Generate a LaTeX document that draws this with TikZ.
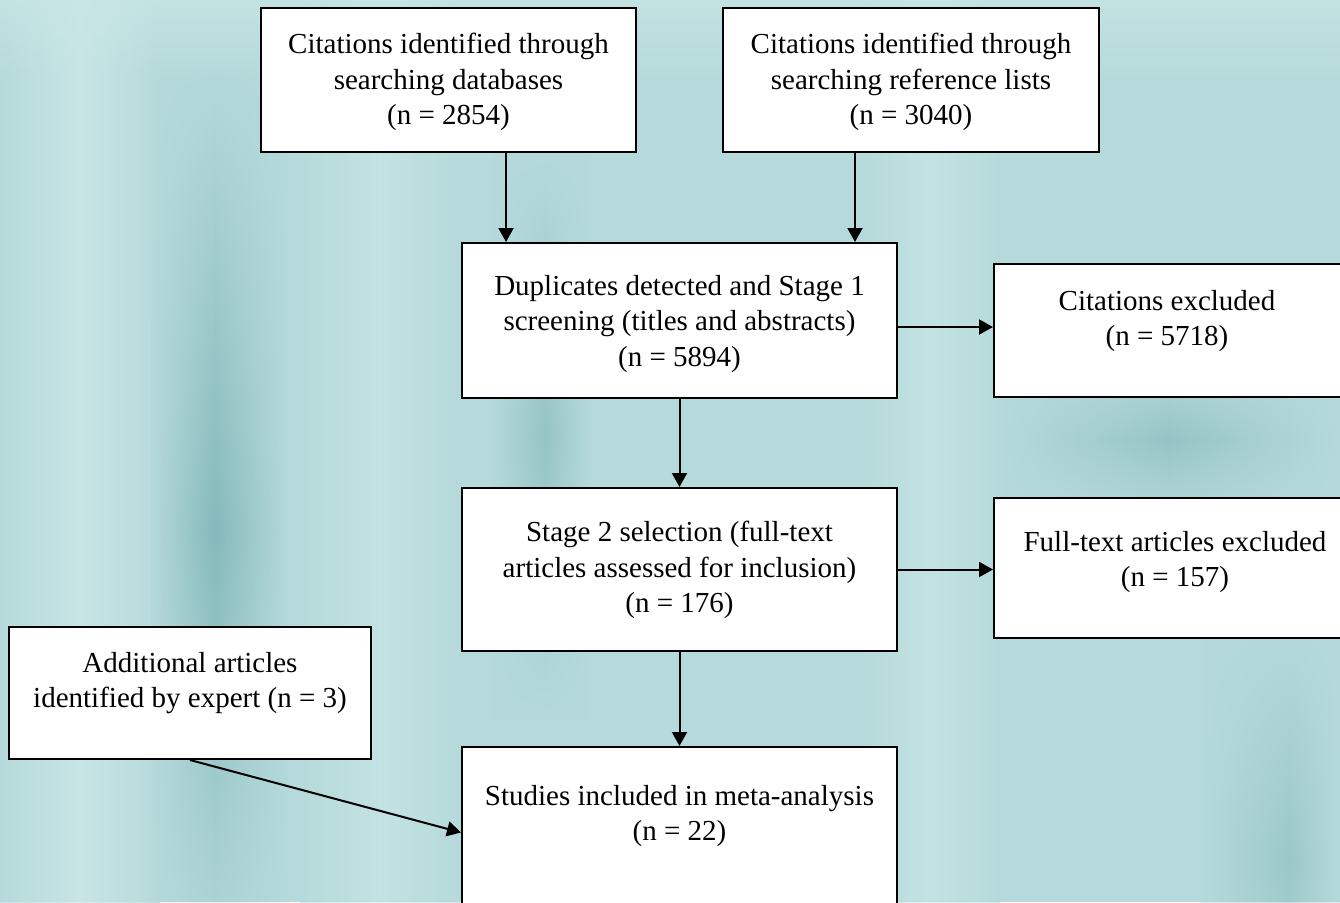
\documentclass[tikz,border=0pt]{standalone}
\usepackage{fontspec}
\setmainfont{Liberation Serif}
\usetikzlibrary{arrows.meta,calc,fadings}
\definecolor{bgbase}{RGB}{182,218,219}
\definecolor{bgdark}{RGB}{128,182,184}
\definecolor{bglight}{RGB}{204,232,232}
\tikzfading[name=fadeud, top color=transparent!100, bottom color=transparent!100, middle color=transparent!0]
\tikzset{
  boxnode/.style={draw=black, line width=1pt, fill=white, inner sep=0pt},
  txt/.style={align=center, inner sep=0pt, font=\fontsize{14.5}{17.8}\selectfont},
  arr/.style={line width=1pt, -{Triangle[length=7pt,width=7.5pt]}},
  streak/.style={path fading=fadeud},
}
\begin{document}
\begin{tikzpicture}[x=0.5pt,y=-0.5pt]
\clip (0,0) rectangle (1340,902);
\useasboundingbox (0,0) rectangle (1340,902);
% background
\fill[bgbase] (0,0) rectangle (1340,902);
\shade[left color=bgbase, right color=bglight, opacity=0.8] (0,0) rectangle (80,902);
\shade[left color=bglight, right color=bgbase, opacity=0.8] (80,0) rectangle (160,902);
\shade[left color=bgbase, right color=bgdark, streak, opacity=0.9] (150,60) rectangle (215,1000);
\shade[left color=bgdark, right color=bgbase, streak, opacity=0.9] (215,60) rectangle (290,1000);
\shade[left color=bgbase, right color=bglight, opacity=0.6] (300,0) rectangle (380,902);
\shade[left color=bglight, right color=bgbase, opacity=0.6] (380,0) rectangle (460,902);
\shade[left color=bgbase, right color=bgdark, streak, opacity=0.6] (490,150) rectangle (545,720);
\shade[left color=bgdark, right color=bgbase, streak, opacity=0.6] (545,150) rectangle (590,720);
\shade[left color=bgbase, right color=bglight, opacity=0.6] (860,0) rectangle (930,902);
\shade[left color=bglight, right color=bgbase, opacity=0.6] (930,0) rectangle (1000,902);
\shade[left color=bgbase, right color=bgdark, streak, opacity=0.6] (1000,360) rectangle (1170,520);
\shade[left color=bgdark, right color=bgbase, streak, opacity=0.6] (1170,360) rectangle (1340,520);
\shade[left color=bgbase, right color=bgdark, streak, opacity=0.5] (1200,620) rectangle (1290,1100);
\shade[left color=bgdark, right color=bgbase, streak, opacity=0.5] (1290,620) rectangle (1340,1100);
\fill[bglight, path fading=south, opacity=0.6] (0,0) rectangle (1340,80);

% boxes
\node[boxnode, minimum width=187.5pt, minimum height=72pt] (A) at (448.5,80) {};
\node[boxnode, minimum width=188pt, minimum height=72pt] (B) at (911,80) {};
\node[boxnode, minimum width=217.5pt, minimum height=77.5pt] (C) at (679.5,320.5) {};
\node[boxnode, minimum width=174pt, minimum height=66.5pt] (D) at (1168,330.5) {};
\node[boxnode, minimum width=217.5pt, minimum height=81.5pt] (E) at (679.5,569.5) {};
\node[boxnode, minimum width=174pt, minimum height=70pt] (F) at (1168,568) {};
\node[boxnode, minimum width=181pt, minimum height=66pt] (G) at (190,693) {};
\node[boxnode, minimum width=217.5pt, minimum height=92pt] (H) at (679.5,839) {};

% texts
\node[txt] (tA) at (448.5,82) {Citations identified through\\searching databases\\(n = 2854)};
\node[txt] (tB) at (911,82) {Citations identified through\\searching reference lists\\(n = 3040)};
\node[txt] (tC) at (679.5,324) {Duplicates detected and Stage 1\\screening (titles and abstracts)\\(n = 5894)};
\node[txt] (tD) at (1167,321) {Citations excluded\\(n = 5718)};
\node[txt] (tE) at (679.5,570) {Stage 2 selection (full-text\\articles assessed for inclusion)\\(n = 176)};
\node[txt] (tF) at (1175,562) {Full-text articles excluded\\(n = 157)};
\node[txt] (tG) at (190,683) {Additional articles\\identified by expert (n = 3)};
\node[txt] (tH) at (679.5,816) {Studies included in meta-analysis\\(n = 22)};

% connectors
\draw[arr] ([xshift=28.75pt]A.south) -- ([xshift=28.75pt]A.south |- C.north);
\draw[arr] ([xshift=-28pt]B.south) -- ([xshift=-28pt]B.south |- C.north);
\draw[arr] ([yshift=-3.25pt]C.east) -- ([yshift=-3.25pt]C.east -| D.west);
\draw[arr] (C.south) -- (E.north);
\draw[arr] (E.east) -- (E.east -| F.west);
\draw[arr] (E.south) -- (H.north);
\draw[arr] (G.south) -- ([yshift=3.25pt]H.west);
\end{tikzpicture}
\end{document}
